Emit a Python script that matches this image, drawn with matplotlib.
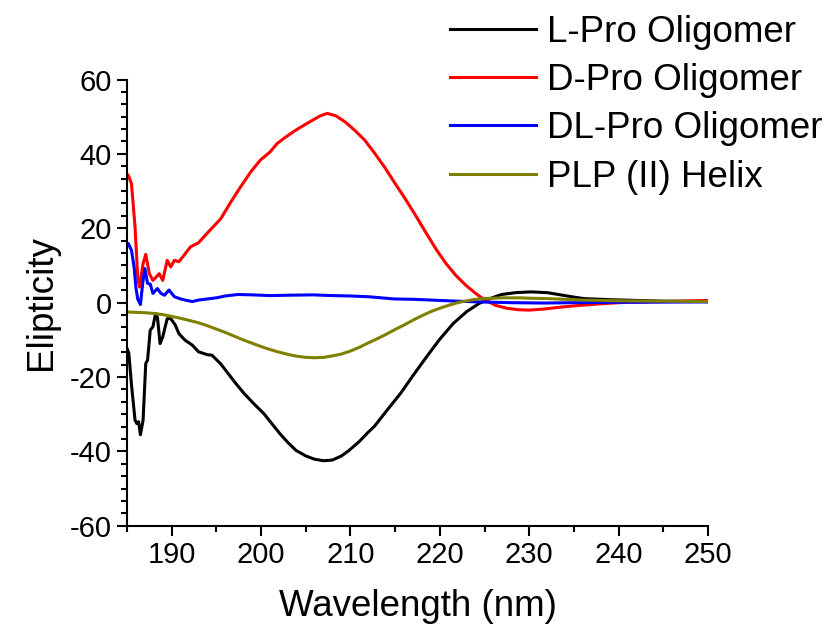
import matplotlib
matplotlib.use("Agg")
import matplotlib.pyplot as plt
from matplotlib.ticker import MultipleLocator, AutoMinorLocator

plt.rcParams['font.family'] = ['Liberation Sans', 'DejaVu Sans']
plt.rcParams['axes.unicode_minus'] = False

# L-Pro oligomer
l_x = [185, 185.2, 185.5, 185.9, 186.1, 186.3, 186.5, 186.8, 187.1, 187.3, 187.6, 187.9,
       188.2, 188.4, 188.7, 189.0, 189.5, 189.9, 190.4, 190.8, 191.5, 192.3, 193, 194,
       194.5, 195.5, 196.3, 197.2, 198.1, 199.2, 200.3, 201.2, 202.1, 203, 203.9, 205,
       206, 207, 208, 209, 209.8, 211, 212, 212.7, 214, 215.6, 217, 218.5, 220, 221.5,
       223, 224.4, 225.5, 226.9, 228.5, 230.2, 232, 233.5, 235, 236.1, 239, 242, 245, 250]
l_y = [-12.3, -13.5, -22, -31.6, -32.5, -32, -35.5, -31.6, -16.3, -15.5, -7.4, -6.5,
       -2.9, -3.8, -11.0, -9.2, -4.3, -4.3, -6.0, -8.3, -10.1, -11.4, -13.2, -14,
       -14.1, -16.5, -19, -21.8, -24.4, -27.2, -29.8, -32.5, -35.2, -37.6, -39.7, -41.2,
       -42.1, -42.5, -42.3, -41.2, -39.8, -37.3, -34.8, -33.2, -29.2, -24.4, -19.6, -14.6, -9.8, -5.6,
       -2.4, -0.2, 1.0, 2.2, 2.7, 2.9, 2.7, 2.1, 1.5, 1.1, 0.8, 0.6, 0.4, 0.3]

# D-Pro oligomer
d_x = [185, 185.14, 185.5, 185.9, 186.2, 186.4, 186.8, 187.1, 187.5, 187.9, 188.3, 188.6,
       189.0, 189.5, 189.9, 190.3, 190.8, 191.4, 192.1, 193, 194.1, 195.5, 196.6, 197.7,
       198.8, 199.9, 201, 201.8, 202.8, 203.9, 205, 205.8, 206.6, 207.4, 208.4, 209.4,
       210.5, 211.6, 212.7, 213.8, 214.9, 216, 217.2, 218.5, 219.6, 220.7, 221.8, 222.9,
       224, 224.8, 226.2, 227.5, 228.8, 230, 231.7, 233.5, 235.3, 238, 240.8, 245, 250]
d_y = [34.5, 34.3, 32.0, 20.4, 6.9, 4.2, 10.5, 13.0, 7.8, 6.0, 7.0, 7.8,
       6.0, 11.4, 9.6, 11.4, 11.0, 12.8, 15.0, 16.1, 19, 22.6, 27, 31.1,
       35, 38.3, 40.5, 42.8, 44.6, 46.4, 48, 49.1, 50.2, 50.9, 50.2, 48.6,
       46.3, 43.7, 40.2, 36.5, 32.4, 28.4, 23.8, 18.6, 14.3, 10.5, 7.3, 4.7,
       2.5, 1.1, -0.7, -1.5, -1.9, -2.0, -1.7, -1.2, -0.8, -0.3, 0.1, 0.3, 0.6]

# DL-Pro oligomer
dl_x = [185, 185.14, 185.5, 185.8, 186.0, 186.2, 186.5, 186.8, 187.0, 187.3, 187.6, 187.9,
        188.4, 188.8, 189.2, 189.7, 190.3, 191, 191.5, 192.3, 193, 194, 195, 196,
        197.4, 199, 201, 203, 205.8, 208, 210, 212, 214.9, 217.1, 220, 222, 224.4,
        228, 231.7, 235, 240, 250]
dl_y = [16.0, 15.9, 14.1, 9.5, 4, 1.0, -0.5, 6, 9.2, 5.2, 5.0, 2.5,
        3.8, 2.5, 2.0, 3.4, 1.6, 1.0, 0.7, 0.3, 0.7, 1.0, 1.3, 1.8,
        2.2, 2.1, 1.9, 2.0, 2.1, 1.9, 1.8, 1.6, 1.0, 0.9, 0.6, 0.4, 0.2,
        0.0, -0.1, 0.0, 0.1, 0.2]

# PLP (II) helix
plp_x = [185, 186, 187, 188, 189, 190, 191, 192, 193, 194, 195, 196, 197, 198, 199, 200,
         201, 202, 203, 204, 205, 206, 207, 208, 209, 210, 211, 212, 213, 214, 215, 216,
         217, 218, 219, 220, 221, 222, 223, 224, 225, 226, 227, 228, 229, 230, 232, 234,
         236, 238, 240, 245, 250]
plp_y = [-2.5, -2.6, -2.7, -2.9, -3.2, -3.7, -4.2, -4.8, -5.4, -6.2, -7.1, -8.0, -9.0, -10.0, -10.9, -11.8,
         -12.6, -13.3, -13.9, -14.4, -14.7, -14.8, -14.7, -14.3, -13.8, -13.0, -12.0, -10.8, -9.7, -8.5, -7.2, -6.0,
         -4.7, -3.5, -2.4, -1.5, -0.7, 0.0, 0.5, 0.9, 1.1, 1.2, 1.3, 1.3, 1.3, 1.2, 1.1, 0.9,
         0.7, 0.6, 0.5, 0.4, 0.3]

fig = plt.figure(figsize=(8.3, 6.26), dpi=100)
ax = fig.add_axes([0.153, 0.160, 0.700, 0.713])

ax.plot(l_x, l_y, color='black', lw=2.2, label='L-Pro Oligomer')
ax.plot(d_x, d_y, color='#ff0000', lw=2.2, label='D-Pro Oligomer')
ax.plot(dl_x, dl_y, color='#0000ff', lw=2.2, label='DL-Pro Oligomer')
ax.plot(plp_x, plp_y, color='#808000', lw=2.2, label='PLP (II) Helix')

ax.set_xlim(185, 250)
ax.set_ylim(-60, 60)
ax.xaxis.set_major_locator(MultipleLocator(10))
ax.xaxis.set_minor_locator(MultipleLocator(5))
ax.yaxis.set_major_locator(MultipleLocator(20))
ax.yaxis.set_minor_locator(AutoMinorLocator(6))

for side in ['top', 'right']:
    ax.spines[side].set_visible(False)
for side in ['left', 'bottom']:
    ax.spines[side].set_linewidth(1.5)

ax.tick_params(which='major', direction='out', length=7, width=1.5, labelsize=21, pad=4)
ax.tick_params(which='minor', direction='out', length=4, width=1.5)

ax.set_xlabel('Wavelength (nm)', fontsize=26.5, labelpad=14)
ax.set_ylabel('Elipticity', fontsize=26.5, labelpad=8)

fig.legend(loc='upper right', bbox_to_anchor=(1.0, 0.988), frameon=False, fontsize=26.5,
           handlelength=2.35, handletextpad=0.3, labelspacing=0.36, borderaxespad=0.1,
           borderpad=0.1)

fig.savefig('out.png', dpi=100)
